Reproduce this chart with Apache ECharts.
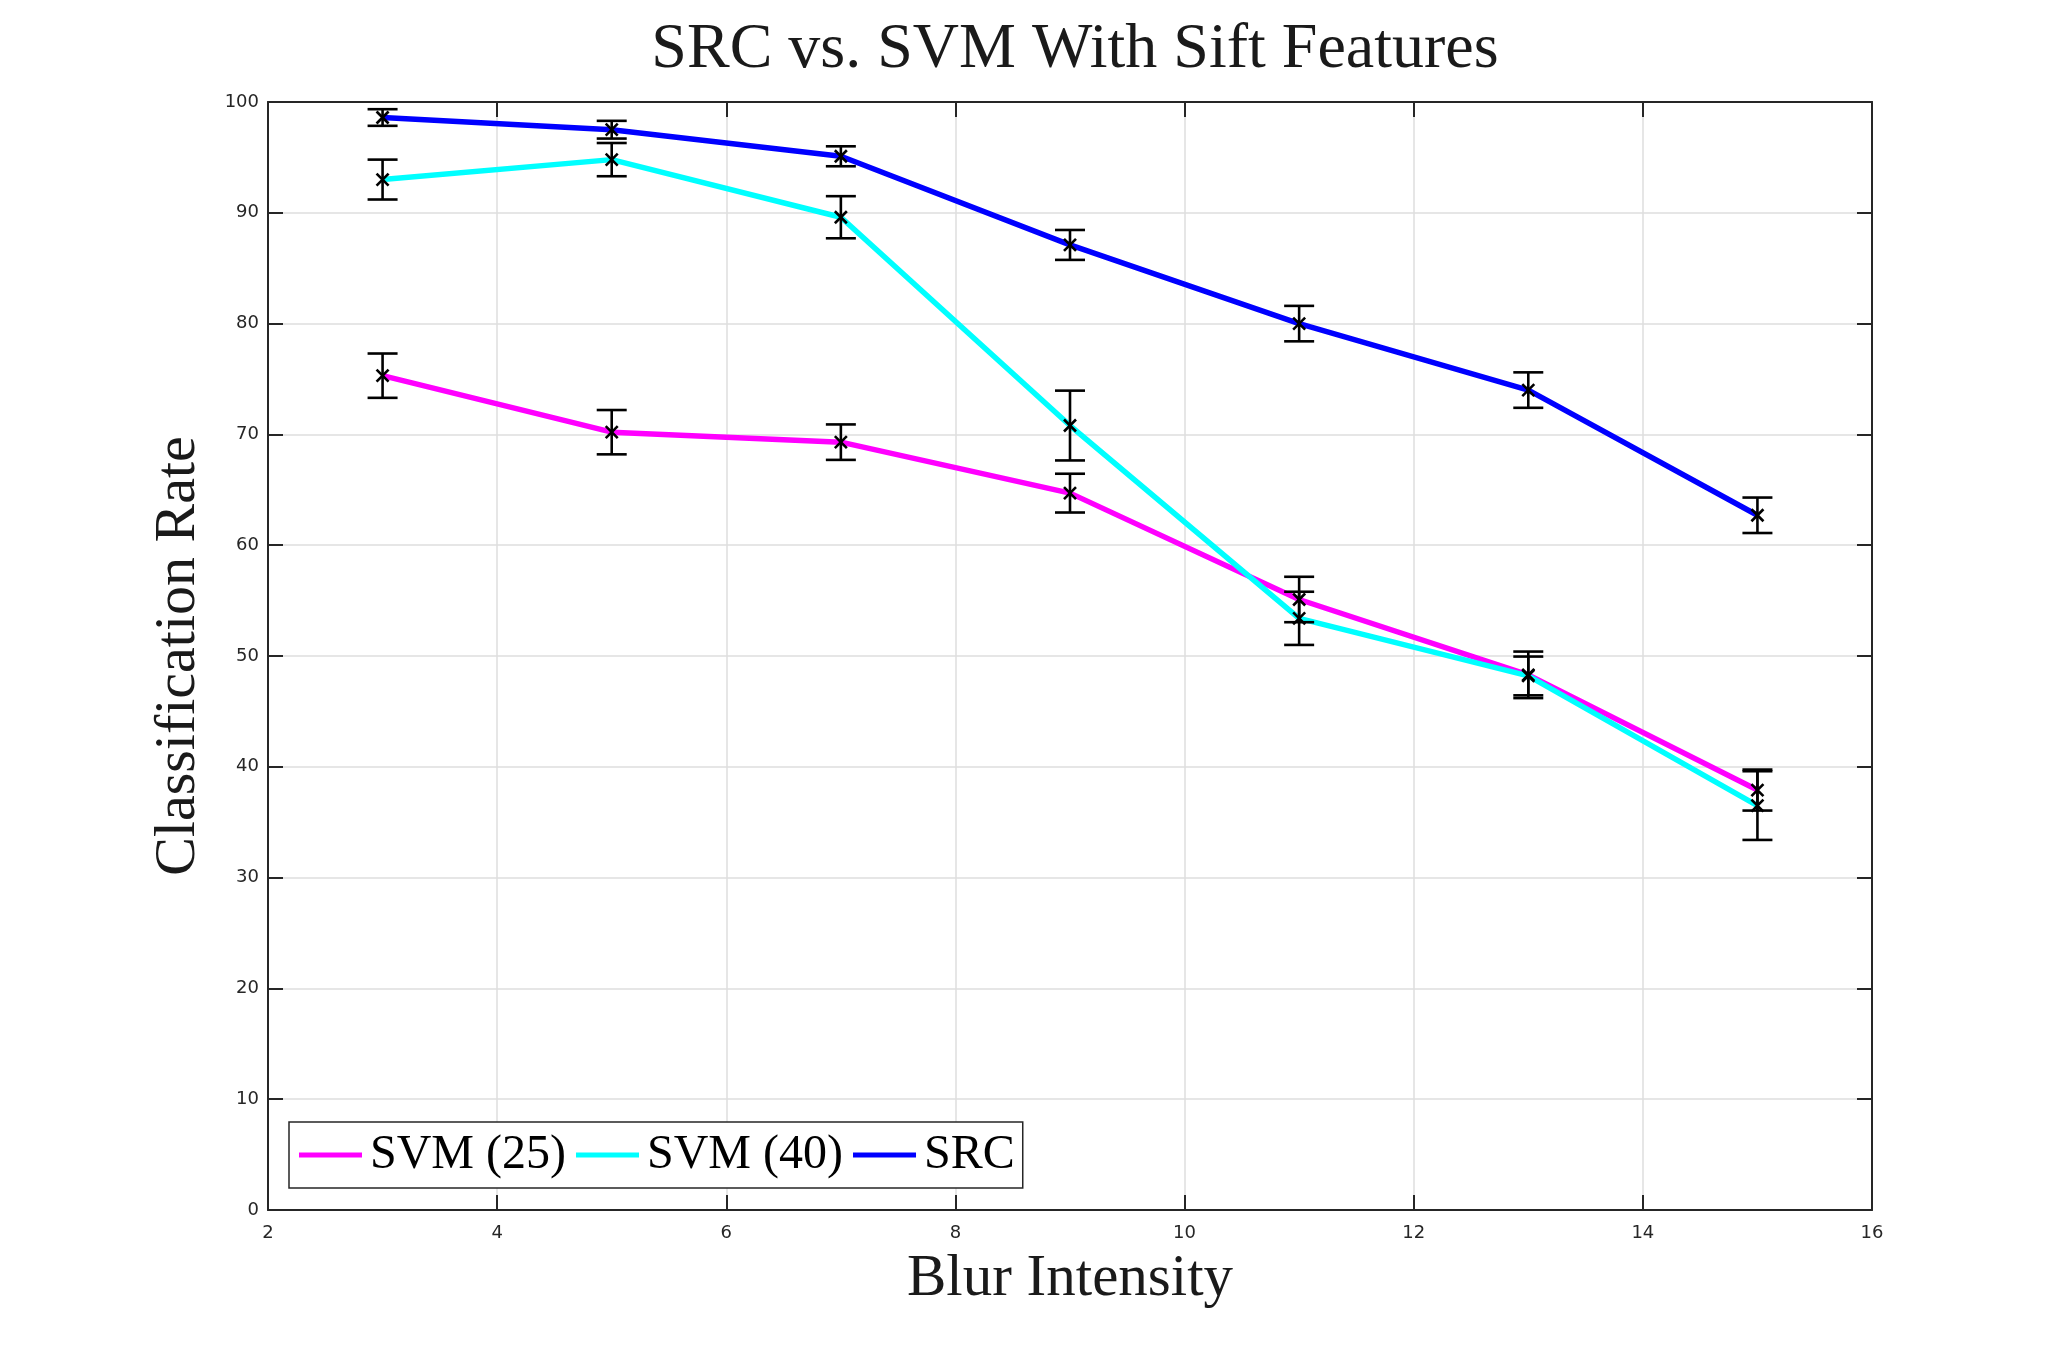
<!DOCTYPE html>
<html>
<head>
<meta charset="utf-8">
<script src="https://cdn.jsdelivr.net/npm/echarts@6/dist/echarts.min.js"></script>
<style>
html,body{margin:0;padding:0;background:#fff;}
#chart{width:2067px;height:1358px;}
</style>
</head>
<body>
<div id="chart"></div>
<script>
var blur = [3, 5, 7, 9, 11, 13, 15];
var svm25 = [75.3, 70.2, 69.3, 64.7, 55.1, 48.3, 37.9];
var svm25Err = [2.0, 2.0, 1.6, 1.75, 2.05, 2.1, 1.85];
var svm40 = [93.0, 94.8, 89.6, 70.8, 53.4, 48.2, 36.5];
var svm40Err = [1.8, 1.5, 1.9, 3.15, 2.4, 1.75, 3.1];
var src = [98.6, 97.5, 95.1, 87.1, 80.0, 74.0, 62.7];
var srcErr = [0.75, 0.8, 0.9, 1.35, 1.6, 1.6, 1.6];
var seriesNames = ['SVM (25)', 'SVM (40)', 'SRC'];
var colors = ['#ff00ff', '#00ffff', '#0000ff'];

function pairs(vals) { return blur.map(function (x, i) { return [x, vals[i]]; }); }
function errData(vals, errs) { return blur.map(function (x, i) { return [x, vals[i], errs[i]]; }); }

function renderErr(params, api) {
  var x = api.value(0), y = api.value(1), e = api.value(2);
  var pTop = api.coord([x, y + e]);
  var pBot = api.coord([x, y - e]);
  var p = api.coord([x, y]);
  var cw = 15, m = 6;
  var st = { stroke: '#000', lineWidth: 2.6 };
  return {
    type: 'group',
    children: [
      { type: 'line', shape: { x1: pTop[0], y1: pTop[1], x2: pBot[0], y2: pBot[1] }, style: st },
      { type: 'line', shape: { x1: pTop[0] - cw, y1: pTop[1], x2: pTop[0] + cw, y2: pTop[1] }, style: st },
      { type: 'line', shape: { x1: pBot[0] - cw, y1: pBot[1], x2: pBot[0] + cw, y2: pBot[1] }, style: st },
      { type: 'line', shape: { x1: p[0] - m, y1: p[1] - m, x2: p[0] + m, y2: p[1] + m }, style: { stroke: '#000', lineWidth: 2.6 } },
      { type: 'line', shape: { x1: p[0] - m, y1: p[1] + m, x2: p[0] + m, y2: p[1] - m }, style: { stroke: '#000', lineWidth: 2.6 } }
    ]
  };
}

var vals = [svm25, svm40, src];
var errs = [svm25Err, svm40Err, srcErr];
var series = [];
for (var i = 0; i < 3; i++) {
  series.push({
    name: seriesNames[i], type: 'line', data: pairs(vals[i]), symbol: 'none',
    lineStyle: { color: colors[i], width: 5.5 }, itemStyle: { color: colors[i] },
    z: 2, animation: false
  });
}
for (var j = 0; j < 3; j++) {
  series.push({
    name: seriesNames[j] + ' err', type: 'custom', data: errData(vals[j], errs[j]),
    renderItem: renderErr, z: 3, animation: false, silent: true
  });
}

var axisColor = '#262626';
var tickFont = { fontFamily: 'DejaVu Sans', fontSize: 18, color: axisColor };

var chart = echarts.init(document.getElementById('chart'));
chart.setOption({
  backgroundColor: '#fff',
  animation: false,
  title: {
    text: 'SRC vs. SVM With Sift Features',
    left: 1070, top: 13, textAlign: 'center',
    textStyle: { fontFamily: 'Liberation Serif', fontSize: 64, fontWeight: 'normal', color: '#1a1a1a' }
  },
  grid: { left: 268, right: 195, top: 102, bottom: 148 },
  legend: {
    data: seriesNames.map(function (n) { return { name: n, icon: 'rect' }; }),
    left: 289, top: 1122,
    orient: 'horizontal',
    itemWidth: 63, itemHeight: 5, itemGap: 10,
    padding: [9, 8, 9, 10],
    borderColor: axisColor, borderWidth: 1.5, backgroundColor: '#fff',
    textStyle: { fontFamily: 'Liberation Serif', fontSize: 48, color: '#000', padding: [0, 0, 0, 3] },
    z: 10
  },
  xAxis: [{
    type: 'value', min: 2, max: 16, interval: 2,
    name: 'Blur Intensity', nameLocation: 'middle', nameGap: 40,
    nameTextStyle: { fontFamily: 'Liberation Serif', fontSize: 59, color: '#1a1a1a' },
    axisLine: { show: true, onZero: false, lineStyle: { color: axisColor, width: 2 } },
    axisTick: { show: true, inside: true, length: 15, lineStyle: { color: axisColor, width: 2 } },
    axisLabel: Object.assign({ margin: 14 }, tickFont),
    splitLine: { show: true, lineStyle: { color: '#dedede', width: 1.5 } }
  }, {
    type: 'value', min: 2, max: 16, interval: 2, position: 'top',
    axisLine: { show: true, onZero: false, lineStyle: { color: axisColor, width: 2 } },
    axisTick: { show: true, inside: true, length: 15, lineStyle: { color: axisColor, width: 2 } },
    axisLabel: { show: false }, splitLine: { show: false }
  }],
  yAxis: [{
    type: 'value', min: 0, max: 100, interval: 10,
    name: 'Classification Rate', nameLocation: 'middle', nameGap: 60,
    nameTextStyle: { fontFamily: 'Liberation Serif', fontSize: 58, color: '#1a1a1a' },
    axisLine: { show: true, onZero: false, lineStyle: { color: axisColor, width: 2 } },
    axisTick: { show: true, inside: true, length: 15, lineStyle: { color: axisColor, width: 2 } },
    axisLabel: Object.assign({ margin: 9 }, tickFont),
    splitLine: { show: true, lineStyle: { color: '#dedede', width: 1.5 } }
  }, {
    type: 'value', min: 0, max: 100, interval: 10, position: 'right',
    axisLine: { show: true, onZero: false, lineStyle: { color: axisColor, width: 2 } },
    axisTick: { show: true, inside: true, length: 15, lineStyle: { color: axisColor, width: 2 } },
    axisLabel: { show: false }, splitLine: { show: false }
  }],
  series: series
});
</script>
</body>
</html>
